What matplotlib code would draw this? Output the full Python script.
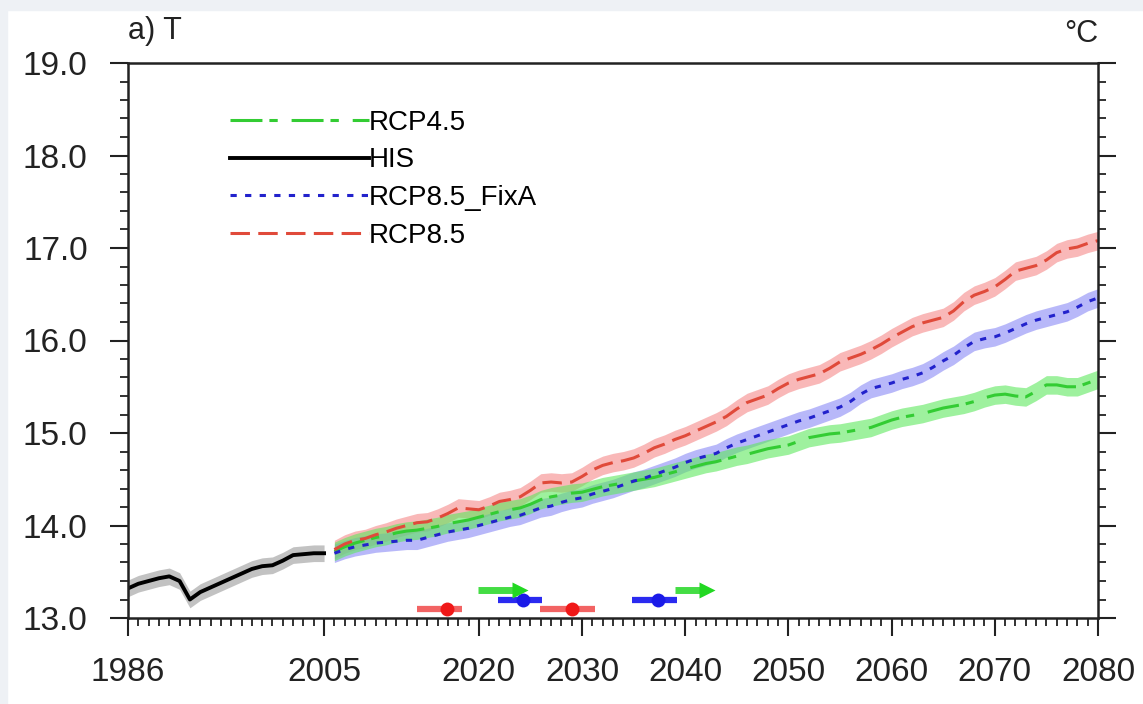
import numpy as np
import matplotlib
matplotlib.use("Agg")
import matplotlib.pyplot as plt
from matplotlib.ticker import MultipleLocator
from matplotlib.patches import Rectangle

plt.rcParams['font.family'] = ['Liberation Sans', 'DejaVu Sans']
plt.rcParams['lines.scale_dashes'] = False

# historical run
his_years = list(range(1986, 2006))
his_t = [13.32, 13.37, 13.40, 13.43, 13.45, 13.40, 13.20, 13.28, 13.33, 13.38,
         13.43, 13.48, 13.53, 13.56, 13.57, 13.62, 13.68, 13.69, 13.70, 13.70]

# scenario runs
proj_years = list(range(2006, 2081))
rcp85 = [13.74, 13.80, 13.84, 13.86, 13.90, 13.93, 13.97, 14.00, 14.03, 14.04,
         14.08, 14.13, 14.19, 14.18, 14.17, 14.21, 14.26, 14.28, 14.31, 14.38,
         14.46, 14.47, 14.46, 14.47, 14.53, 14.60, 14.65, 14.68, 14.70, 14.73,
         14.78, 14.84, 14.88, 14.93, 14.97, 15.02, 15.07, 15.12, 15.18, 15.26,
         15.33, 15.37, 15.41, 15.48, 15.54, 15.58, 15.61, 15.64, 15.70, 15.77,
         15.81, 15.85, 15.90, 15.96, 16.03, 16.09, 16.15, 16.19, 16.22, 16.25,
         16.32, 16.42, 16.49, 16.53, 16.58, 16.66, 16.75, 16.78, 16.81, 16.87,
         16.95, 16.99, 17.01, 17.05, 17.08]
fixa = [13.70, 13.74, 13.77, 13.79, 13.81, 13.82, 13.83, 13.84, 13.84, 13.87,
        13.90, 13.93, 13.95, 13.97, 14.00, 14.03, 14.06, 14.09, 14.11, 14.15,
        14.19, 14.21, 14.25, 14.28, 14.30, 14.34, 14.37, 14.40, 14.44, 14.48,
        14.51, 14.55, 14.59, 14.63, 14.68, 14.72, 14.75, 14.78, 14.84, 14.89,
        14.93, 14.97, 15.01, 15.05, 15.09, 15.13, 15.16, 15.20, 15.24, 15.28,
        15.34, 15.42, 15.48, 15.51, 15.54, 15.58, 15.61, 15.65, 15.71, 15.78,
        15.84, 15.92, 15.99, 16.02, 16.04, 16.08, 16.13, 16.18, 16.22, 16.25,
        16.28, 16.31, 16.36, 16.42, 16.46]
rcp45 = [13.72, 13.77, 13.81, 13.84, 13.87, 13.89, 13.92, 13.94, 13.95, 13.97,
         13.99, 14.02, 14.04, 14.06, 14.09, 14.12, 14.15, 14.17, 14.19, 14.23,
         14.28, 14.31, 14.33, 14.35, 14.36, 14.39, 14.42, 14.44, 14.46, 14.48,
         14.50, 14.52, 14.55, 14.58, 14.61, 14.64, 14.67, 14.69, 14.72, 14.75,
         14.77, 14.80, 14.83, 14.85, 14.87, 14.91, 14.95, 14.97, 14.99, 15.00,
         15.02, 15.04, 15.06, 15.10, 15.14, 15.17, 15.19, 15.21, 15.24, 15.27,
         15.29, 15.31, 15.34, 15.38, 15.41, 15.42, 15.40, 15.39, 15.45, 15.52,
         15.52, 15.50, 15.50, 15.54, 15.58]

# ensemble spread (half width)
his_sd = 0.09
rcp85_sd = 0.10
fixa_sd = 0.10
rcp45_sd = 0.10

# emergence years (centre, range) plotted near the bottom
red_mid = [2016.9, 2029.0]
red_lo = [2014.0, 2025.9]
red_hi = [2018.4, 2031.3]
red_y = 13.10
blue_mid = [2024.3, 2037.4]
blue_lo = [2021.9, 2034.8]
blue_hi = [2026.1, 2039.2]
blue_y = 13.19
green_lo = [2019.9, 2039.0]
green_hi = [2024.0, 2042.1]
green_y = 13.30

xticks = [1986, 2005, 2020, 2030, 2040, 2050, 2060, 2070, 2080]

fig = plt.figure(figsize=(11.43, 7.04), dpi=100)
fig.patch.set_facecolor('white')
fig.add_artist(Rectangle((0, 0), 7/1143, 1, transform=fig.transFigure,
                         color='#eef1f5', zorder=0))
fig.add_artist(Rectangle((0, 1 - 10/704), 1, 10/704, transform=fig.transFigure,
                         color='#eef1f5', zorder=0))
ax = fig.add_axes([128/1143, 86/704, 970/1143, 555/704])

hy = np.array(his_years)
py = np.array(proj_years)

ax.fill_between(hy, np.array(his_t) - his_sd, np.array(his_t) + his_sd,
                color='#9a9a9a', alpha=0.6, lw=0)
ax.fill_between(py, np.array(rcp85) - rcp85_sd, np.array(rcp85) + rcp85_sd,
                color='#f58a8a', alpha=0.6, lw=0)
ax.fill_between(py, np.array(fixa) - fixa_sd, np.array(fixa) + fixa_sd,
                color='#8a8af5', alpha=0.6, lw=0)
ax.fill_between(py, np.array(rcp45) - rcp45_sd, np.array(rcp45) + rcp45_sd,
                color='#5ee85e', alpha=0.6, lw=0)

l45, = ax.plot(py, rcp45, color='#33cc33', lw=2.2, dashes=(23, 5, 6, 10),
               label='RCP4.5')
lhis, = ax.plot(hy, his_t, color='black', lw=2.8, label='HIS')
lfx, = ax.plot(py, fixa, color='#2222cc', lw=2.2, dashes=(4.5, 6),
               label='RCP8.5_FixA')
l85, = ax.plot(py, rcp85, color='#e04a3a', lw=2.2, dashes=(14, 6),
               label='RCP8.5')

for lo, hi, mid in zip(red_lo, red_hi, red_mid):
    ax.plot([lo, hi], [red_y, red_y], color='#f04848', lw=4.5,
            solid_capstyle='butt', alpha=0.85)
    ax.plot(mid, red_y, 'o', color='#f01818', ms=10, mec='none')
for lo, hi, mid in zip(blue_lo, blue_hi, blue_mid):
    ax.plot([lo, hi], [blue_y, blue_y], color='#2a2af0', lw=4.5,
            solid_capstyle='butt')
    ax.plot(mid, blue_y, 'o', color='#1a1ae8', ms=10, mec='none')
for lo, hi in zip(green_lo, green_hi):
    ax.plot([lo, hi], [green_y, green_y], color='#44dd44', lw=5,
            solid_capstyle='butt')
    ax.plot(hi, green_y, '>', color='#22d822', ms=12, mec='none')

ax.set_xlim(1986, 2080)
ax.set_ylim(13.0, 19.0)
ax.set_xticks(xticks)
ax.set_xticklabels([str(v) for v in xticks])
ax.xaxis.set_minor_locator(MultipleLocator(1))
ax.yaxis.set_major_locator(MultipleLocator(1))
ax.yaxis.set_minor_locator(MultipleLocator(0.2))
ax.yaxis.set_major_formatter(matplotlib.ticker.FormatStrFormatter('%.1f'))

ax.tick_params(axis='both', which='major', direction='out', length=13,
               width=1.5, labelsize=24, colors='#222222')
ax.tick_params(axis='both', which='minor', direction='out', length=6,
               width=1.3, colors='#222222')
ax.tick_params(axis='x', which='major', pad=15)
ax.tick_params(axis='y', which='major', pad=16)
ax.tick_params(axis='y', which='both', right=True)
for s in ax.spines.values():
    s.set_linewidth(1.8)
    s.set_color('#222222')

ax.text(0.0, 1.03, 'a) T', transform=ax.transAxes, fontsize=22,
        ha='left', va='bottom', color='#222222')
ax.text(1.0, 1.025, '°C', transform=ax.transAxes, fontsize=22,
        ha='right', va='bottom', color='#222222')

ax.legend(handles=[l45, lhis, lfx, l85], loc='upper left',
          bbox_to_anchor=(0.105, 0.916), frameon=False, fontsize=20,
          handlelength=5.0, handletextpad=0.0, labelspacing=0.42,
          borderpad=0, borderaxespad=0)

fig.savefig('out.png', dpi=100, facecolor=fig.get_facecolor())
